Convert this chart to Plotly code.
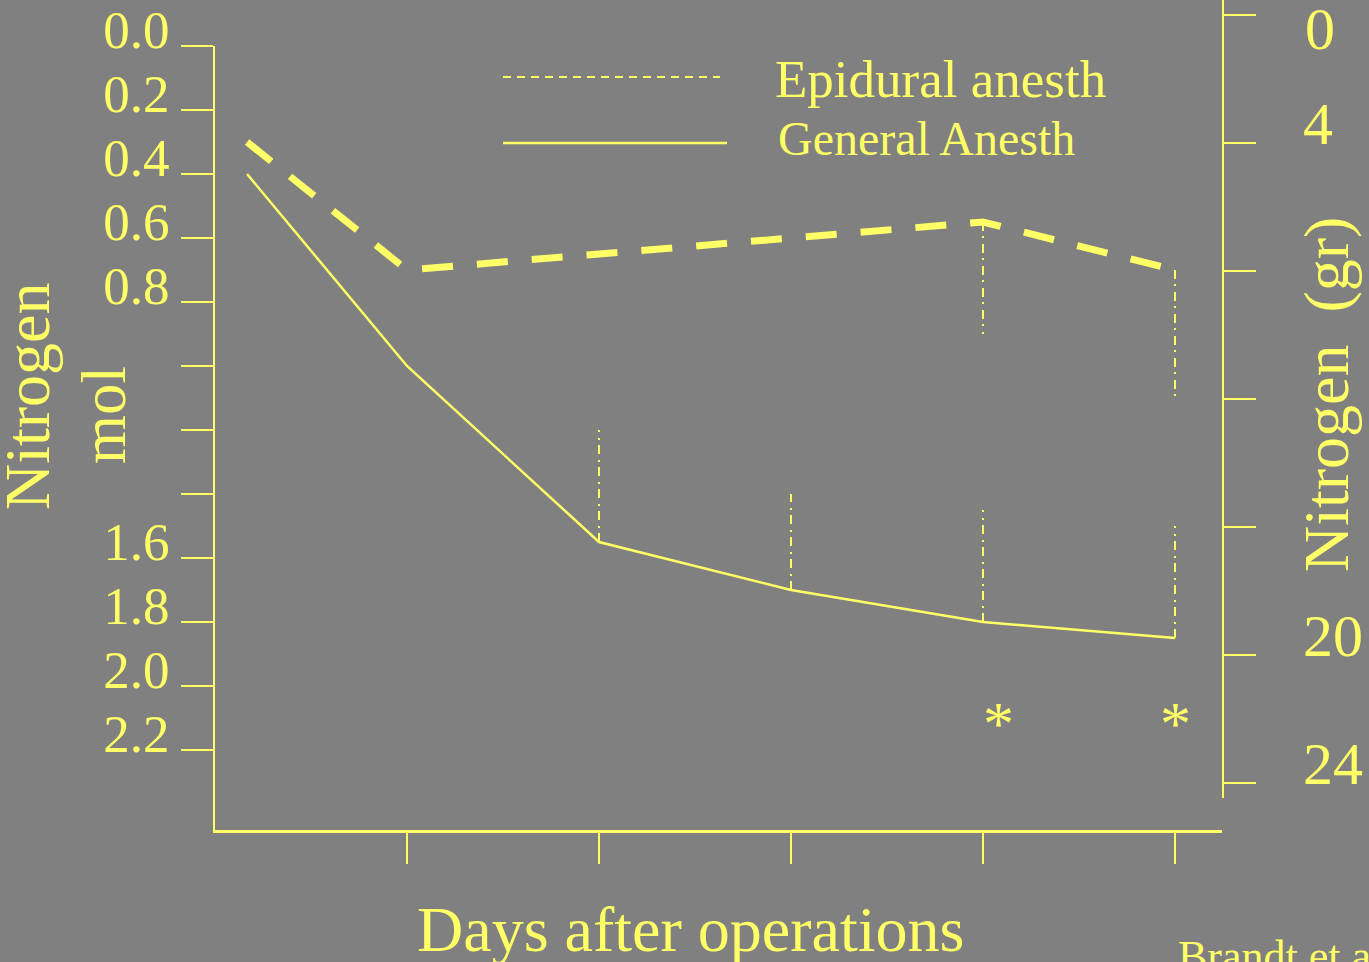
import plotly.graph_objects as go

# ---------------- data ----------------
days_epidural = [0.167, 1, 2, 3, 4, 5]
epidural_mol = [0.30, 0.70, 0.65, 0.60, 0.55, 0.70]
epidural_err = [0, 0, 0, 0, 0.35, 0.40]          # drawn downward

days_general = [0.167, 1, 2, 3, 4, 5]
general_mol = [0.40, 1.00, 1.55, 1.70, 1.80, 1.85]
general_err = [0, 0, 0.35, 0.30, 0.35, 0.35]     # drawn upward

day_ticks = [1, 2, 3, 4, 5]
mol_ticks = [0.0, 0.2, 0.4, 0.6, 0.8, 1.0, 1.2, 1.4, 1.6, 1.8, 2.0, 2.2]
mol_tick_labels = ["0.0", "0.2", "0.4", "0.6", "0.8", "", "", "", "1.6", "1.8", "2.0", "2.2"]
gr_ticks = [0, 4, 8, 12, 16, 20, 24]
gr_tick_labels = ["0", "4", "", "", "", "20", "24"]
significant_days = [4, 5]
series_names = ["Epidural anesth", "General Anesth"]

# ---------------- style ----------------
YEL = "#FFFF66"
BG = "#808080"
FONT = "Liberation Serif"
W, H = 1369, 962
L, R, T, B = 215, 147, 0, 132
PW, PH = W - L - R, H - T - B


def px_x(px):
    return (px - L) / PW


def px_y(py):
    return (H - B - py) / PH


def err_segments(xs, ys, errs, sign):
    ex, ey = [], []
    for x, y, e in zip(xs, ys, errs):
        if e:
            ex += [x, x, None]
            ey += [y, y + sign * e, None]
    return ex, ey


fig = go.Figure()

# error bars (dash-dot)
ex, ey = err_segments(days_epidural, epidural_mol, epidural_err, +1)
fig.add_trace(go.Scatter(x=ex, y=ey, mode="lines", hoverinfo="skip",
                         line=dict(color=YEL, width=2, dash="9px,5px,2px,6px")))
ex, ey = err_segments(days_general, general_mol, general_err, -1)
fig.add_trace(go.Scatter(x=ex, y=ey, mode="lines", hoverinfo="skip",
                         line=dict(color=YEL, width=2, dash="9px,5px,2px,6px")))

# main series
fig.add_trace(go.Scatter(x=days_epidural, y=epidural_mol, mode="lines", name=series_names[0],
                         line=dict(color=YEL, width=7, dash="31px,24px")))
fig.add_trace(go.Scatter(x=days_general, y=general_mol, mode="lines", name=series_names[1],
                         line=dict(color=YEL, width=2.5)))

# dummy trace for right axis
fig.add_trace(go.Scatter(x=[None], y=[None], xaxis="x", yaxis="y2", showlegend=False))

# legend drawn as shapes + text
fig.add_shape(type="line", xref="paper", yref="paper",
              x0=px_x(503), x1=px_x(720), y0=px_y(77), y1=px_y(77),
              line=dict(color=YEL, width=2, dash="8px,6px"))
fig.add_shape(type="line", xref="paper", yref="paper",
              x0=px_x(503), x1=px_x(727), y0=px_y(143), y1=px_y(143),
              line=dict(color=YEL, width=2.5))

ann = []
ann.append(dict(text=series_names[0], xref="paper", yref="paper", x=px_x(773), y=px_y(79),
                xanchor="left", yanchor="middle", showarrow=False,
                font=dict(family=FONT, size=53, color=YEL)))
ann.append(dict(text=series_names[1], xref="paper", yref="paper", x=px_x(776), y=px_y(138),
                xanchor="left", yanchor="middle", showarrow=False,
                font=dict(family=FONT, size=48, color=YEL)))
# asterisks
for i, d in enumerate(significant_days):
    ann.append(dict(text="*", xref="x", yref="y", x=d, y=2.115, xshift=15 if i == 0 else 0,
                    showarrow=False, xanchor="center", yanchor="middle",
                    font=dict(family=FONT, size=62, color=YEL)))
# axis titles
ann.append(dict(text="Nitrogen", xref="paper", yref="paper", x=px_x(28), y=px_y(396),
                textangle=-90, showarrow=False, xanchor="center", yanchor="middle",
                font=dict(family=FONT, size=64, color=YEL)))
ann.append(dict(text="mol", xref="paper", yref="paper", x=px_x(104), y=px_y(415),
                textangle=-90, showarrow=False, xanchor="center", yanchor="middle",
                font=dict(family=FONT, size=63, color=YEL)))
ann.append(dict(text="Nitrogen&nbsp;&nbsp;(gr)", xref="paper", yref="paper", x=px_x(1326), y=px_y(395),
                textangle=-90, showarrow=False, xanchor="center", yanchor="middle",
                font=dict(family=FONT, size=64, color=YEL)))
ann.append(dict(text="Days after operations", xref="paper", yref="paper", x=px_x(690), y=px_y(929),
                showarrow=False, xanchor="center", yanchor="middle",
                font=dict(family=FONT, size=64, color=YEL)))
ann.append(dict(text="Brandt et al.", xref="paper", yref="paper", x=px_x(1176), y=px_y(956),
                showarrow=False, xanchor="left", yanchor="middle",
                font=dict(family=FONT, size=44, color=YEL)))
# label for the top right tick
ann.append(dict(text=gr_tick_labels[0], xref="paper", yref="paper", x=px_x(1303), y=px_y(29),
                showarrow=False, xanchor="left", yanchor="middle",
                font=dict(family=FONT, size=60, color=YEL)))

fig.update_layout(
    width=W, height=H,
    margin=dict(l=L, r=R, t=T, b=B, pad=0, autoexpand=False),
    paper_bgcolor=BG, plot_bgcolor="rgba(0,0,0,0)",
    showlegend=False,
    annotations=ann,
    xaxis=dict(range=[0, PW / 192], tickvals=day_ticks, showticklabels=False,
               ticks="outside", ticklen=31, tickwidth=1.5, tickcolor=YEL,
               showline=True, linecolor=YEL, linewidth=2.5, automargin=False,
               showgrid=False, zeroline=False, anchor="y"),
    yaxis=dict(domain=[0, px_y(46)], range=[(830 - 46) / 320, 0],
               tickvals=mol_ticks, ticktext=mol_tick_labels,
               ticks="outside", ticklen=32, tickwidth=2, tickcolor=YEL,
               showline=True, linecolor=YEL, linewidth=2, automargin=False,
               showgrid=False, zeroline=False,
               tickfont=dict(family=FONT, size=53, color=YEL),
               ticklabelshift=17, ticklabelstandoff=1, anchor="x"),
    yaxis2=dict(domain=[px_y(798), 1], range=[(798 - 15) / 32, -15 / 32],
                tickvals=gr_ticks, ticktext=[""] + gr_tick_labels[1:],
                ticks="outside", ticklen=32, tickwidth=2, tickcolor=YEL,
                showline=True, linecolor=YEL, linewidth=2, automargin=False,
                showgrid=False, zeroline=False, side="right", anchor="x",
                tickfont=dict(family=FONT, size=60, color=YEL),
                ticklabelshift=20, ticklabelstandoff=35),
)

fig.write_html("out.html", config={"displayModeBar": False},
               post_script="document.body.style.margin='0';document.body.style.overflow='hidden';")
